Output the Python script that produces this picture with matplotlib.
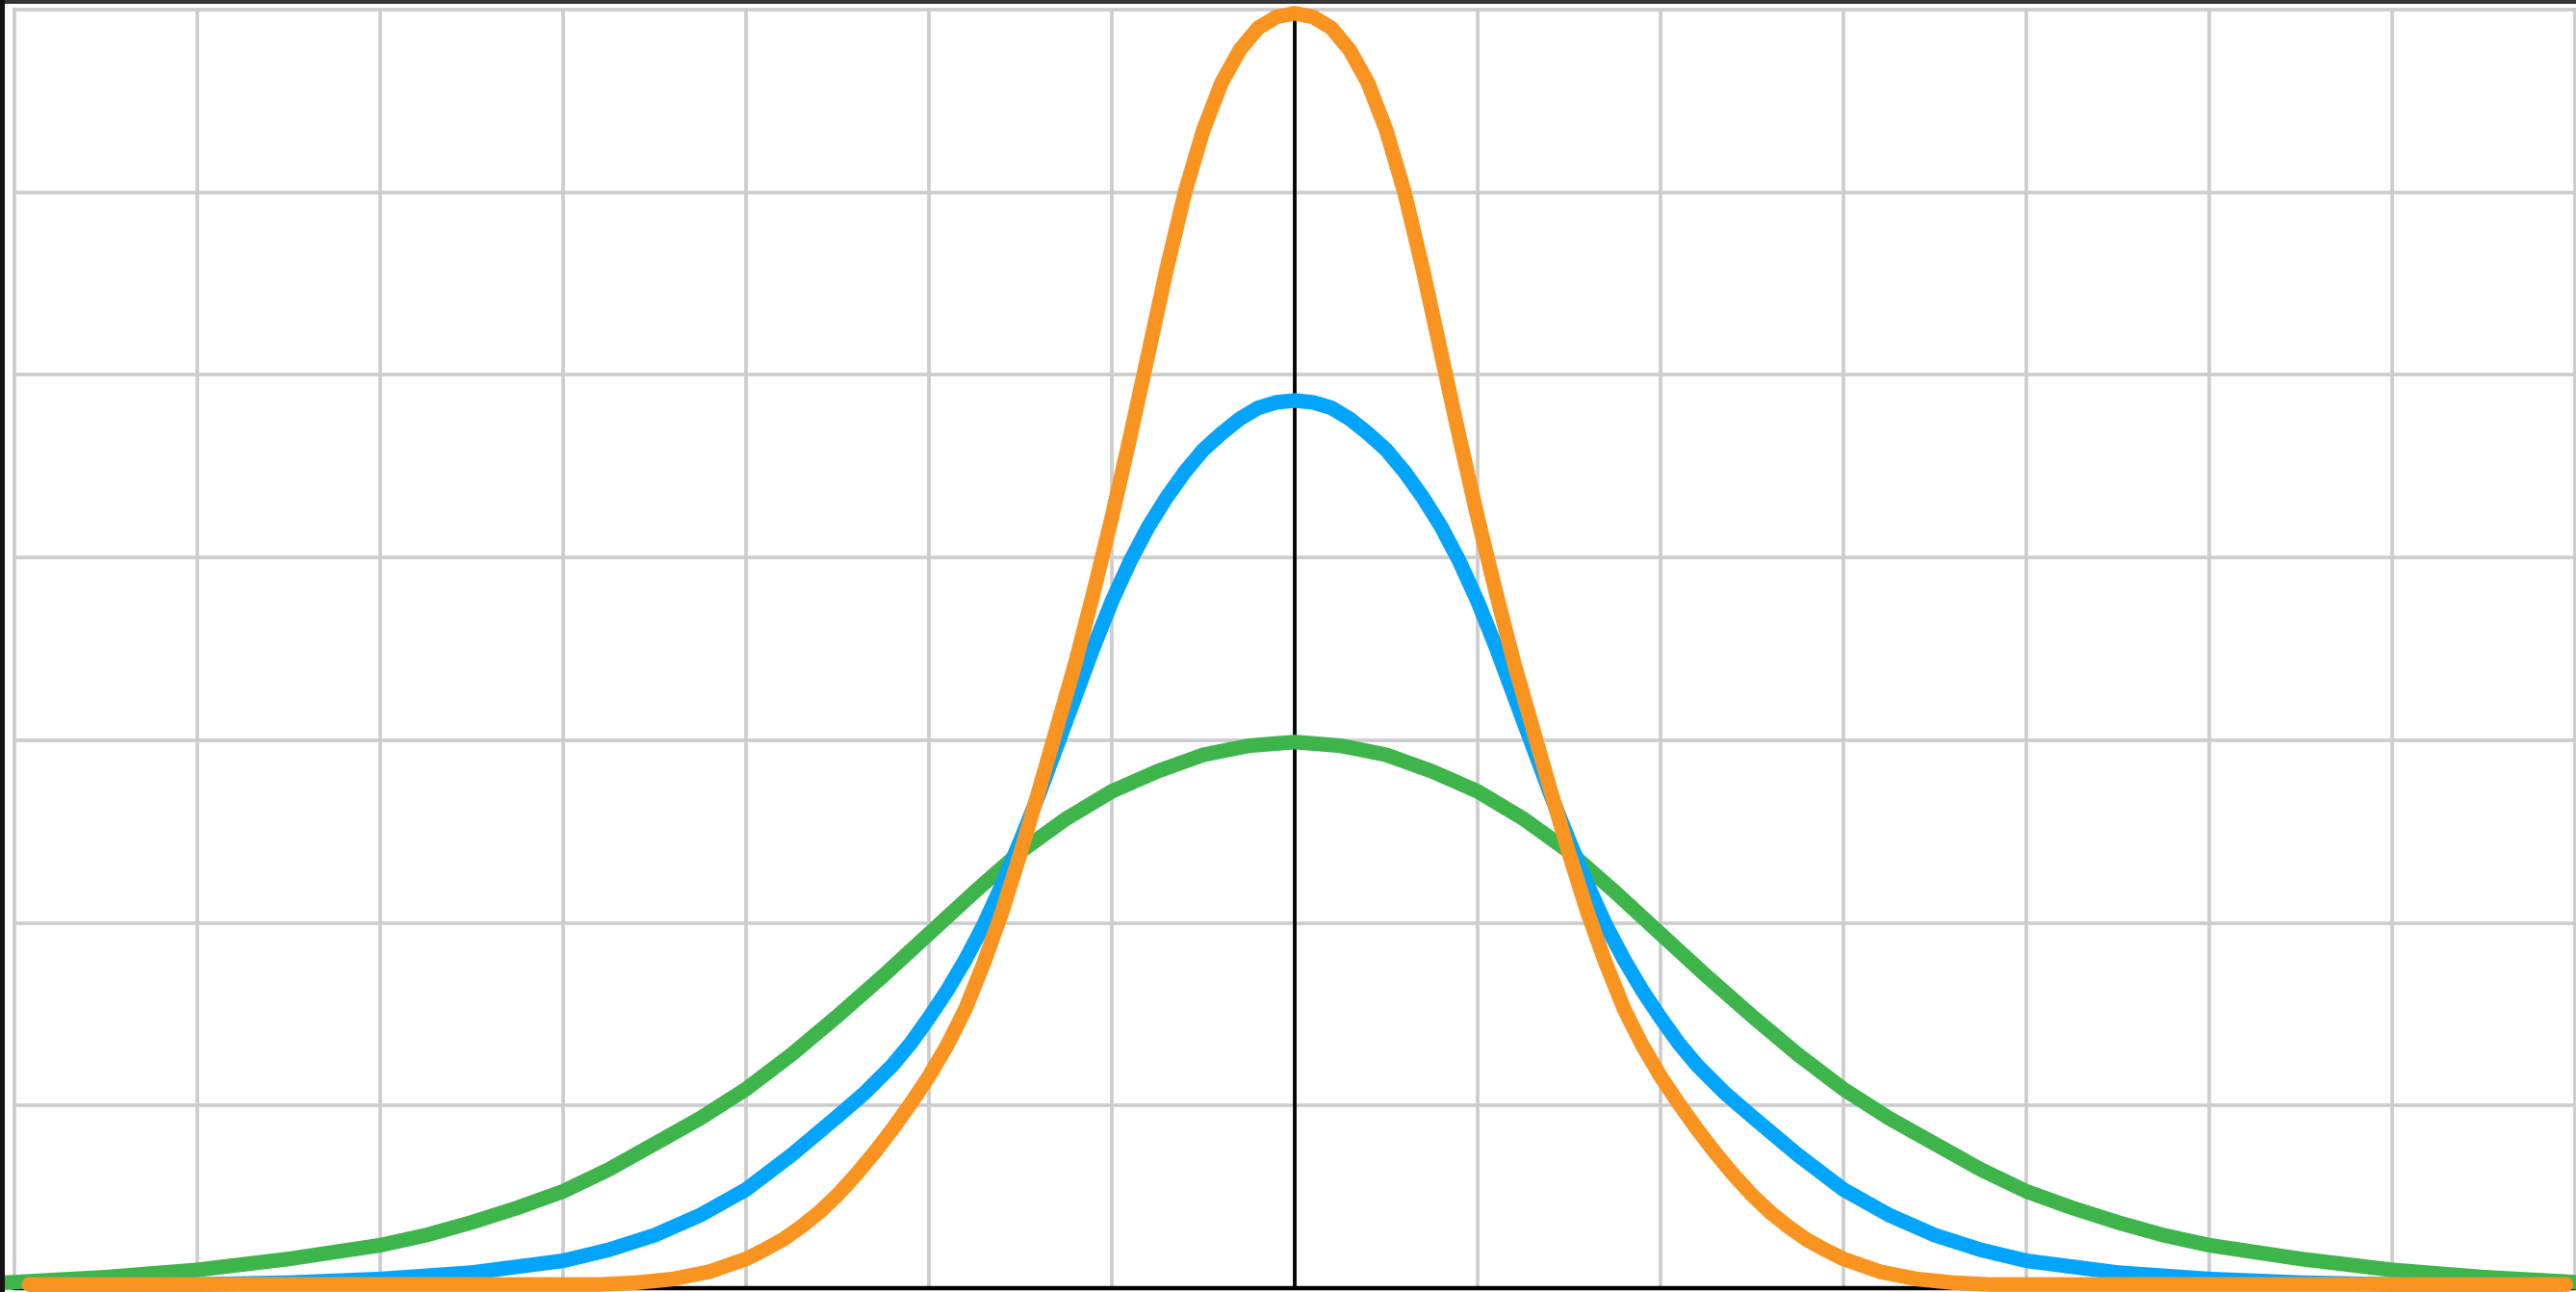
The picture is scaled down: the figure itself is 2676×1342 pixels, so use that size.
import matplotlib
matplotlib.use("Agg")
import matplotlib.pyplot as plt
from matplotlib.patches import Rectangle

# ---------------- data ----------------
green_x = [-7.05, -6.5, -6.0, -5.5, -5.0, -4.75, -4.5, -4.25, -4.0, -3.75, -3.5, -3.25, -3.0, -2.75, -2.5, -2.25,
           -2.0, -1.75, -1.5, -1.25, -1.0, -0.75, -0.5, -0.25, 0.0,
           0.25, 0.5, 0.75, 1.0, 1.25, 1.5, 1.75, 2.0, 2.25, 2.5, 2.75, 3.0, 3.25, 3.5, 3.75, 4.0, 4.25, 4.5, 4.75,
           5.0, 5.5, 6.0, 6.5, 7.05]
green_y = [0.03, 0.06, 0.10, 0.16, 0.235, 0.29, 0.36, 0.44, 0.53, 0.65, 0.79, 0.93, 1.09, 1.28, 1.49, 1.71,
           1.94, 2.17, 2.39, 2.57, 2.72, 2.83, 2.92, 2.97, 2.99,
           2.97, 2.92, 2.83, 2.72, 2.57, 2.39, 2.17, 1.94, 1.71, 1.49, 1.28, 1.09, 0.93, 0.79, 0.65, 0.53, 0.44, 0.36,
           0.29, 0.235, 0.16, 0.10, 0.06, 0.03]

blue_x = [-6.9, -6.0, -5.5, -5.0, -4.5, -4.0, -3.75, -3.5, -3.25, -3.0, -2.75, -2.5, -2.35, -2.2, -2.1, -2.0, -1.9,
          -1.8, -1.7, -1.6, -1.5, -1.4, -1.3, -1.2, -1.1, -1.0, -0.9, -0.8, -0.7, -0.6, -0.5, -0.4, -0.3, -0.2,
          -0.1, 0.0,
          0.1, 0.2, 0.3, 0.4, 0.5, 0.6, 0.7, 0.8, 0.9, 1.0, 1.1, 1.2, 1.3, 1.4, 1.5, 1.6, 1.7, 1.8, 1.9, 2.0, 2.1,
          2.2, 2.35, 2.5, 2.75, 3.0, 3.25, 3.5, 3.75, 4.0, 4.5, 5.0, 5.5, 6.0, 6.9]
blue_y = [0.02, 0.02, 0.03, 0.05, 0.085, 0.15, 0.21, 0.29, 0.40, 0.54, 0.73, 0.94, 1.07, 1.22, 1.34, 1.48, 1.63,
          1.80, 1.99, 2.21, 2.45, 2.70, 2.97, 3.24, 3.51, 3.76, 3.98, 4.17, 4.33, 4.47, 4.59, 4.68, 4.76, 4.82,
          4.85, 4.86,
          4.85, 4.82, 4.76, 4.68, 4.59, 4.47, 4.33, 4.17, 3.98, 3.76, 3.51, 3.24, 2.97, 2.70, 2.45, 2.21, 1.99,
          1.80, 1.63, 1.48, 1.34, 1.22, 1.07, 0.94, 0.73, 0.54, 0.40, 0.29, 0.21, 0.15, 0.085, 0.05, 0.03, 0.02, 0.02]

orange_x = [-6.92, -5.0, -3.8, -3.6, -3.4, -3.2, -3.0, -2.9, -2.8, -2.7, -2.6, -2.5, -2.4, -2.3, -2.2, -2.1, -2.0,
            -1.9, -1.8, -1.7, -1.6, -1.5, -1.4, -1.3, -1.2, -1.1, -1.0, -0.9, -0.8, -0.7, -0.6, -0.5, -0.4, -0.3,
            -0.2, -0.1, 0.0,
            0.1, 0.2, 0.3, 0.4, 0.5, 0.6, 0.7, 0.8, 0.9, 1.0, 1.1, 1.2, 1.3, 1.4, 1.5, 1.6, 1.7, 1.8, 1.9, 2.0,
            2.1, 2.2, 2.3, 2.4, 2.5, 2.6, 2.7, 2.8, 2.9, 3.0, 3.2, 3.4, 3.6, 3.8, 5.0, 6.95]
orange_y = [0.02, 0.02, 0.02, 0.03, 0.05, 0.09, 0.16, 0.21, 0.265, 0.335, 0.415, 0.51, 0.62, 0.74, 0.87, 1.01, 1.16,
            1.33, 1.53, 1.78, 2.06, 2.38, 2.72, 3.07, 3.42, 3.81, 4.22, 4.66, 5.12, 5.58, 6.00, 6.34, 6.60, 6.78,
            6.90, 6.96, 6.98,
            6.96, 6.90, 6.78, 6.60, 6.34, 6.00, 5.58, 5.12, 4.66, 4.22, 3.81, 3.42, 3.07, 2.72, 2.38, 2.06, 1.78,
            1.53, 1.33, 1.16, 1.01, 0.87, 0.74, 0.62, 0.51, 0.415, 0.335, 0.265, 0.21, 0.16, 0.09, 0.05, 0.03,
            0.02, 0.02, 0.02]

grid_x = list(range(-7, 8))
grid_y = list(range(1, 8))

# ---------------- figure ----------------
W, H = 2676, 1342
fig = plt.figure(figsize=(W / 100, H / 100), dpi=100, facecolor="white")
ax = fig.add_axes([15 / W, (H - 1338) / H, 2660 / W, 1328 / H])
ax.set_xlim(-7, 7)
ax.set_ylim(0, 7)
ax.set_axis_off()

grid_col = "#cdcdcd"
for gx in grid_x:
    ax.axvline(gx, color=grid_col, lw=2.7, zorder=1, clip_on=False)
for gy in grid_y:
    ax.axhline(gy, color=grid_col, lw=2.7, zorder=1, clip_on=False)

# axes lines
ax.axvline(0, color="black", lw=2.7, zorder=2)
ax.axhline(0, color="black", lw=3.2, zorder=2, clip_on=False)

lw = 11
style = dict(lw=lw, solid_capstyle="round", solid_joinstyle="round", clip_on=False)
ax.plot(green_x, green_y, color="#3db54b", zorder=3, **style)
ax.plot(blue_x, blue_y, color="#03a5fc", zorder=4, **style)
ax.plot(orange_x, orange_y, color="#fa9421", zorder=5, **style)

# dark frame edges (top and left) as in the screenshot
fig.add_artist(Rectangle((0, 1 - 4 / H), 1, 4 / H, transform=fig.transFigure,
                         facecolor="#363636", edgecolor="none", zorder=10))
fig.add_artist(Rectangle((0, 0), 5 / W, 1, transform=fig.transFigure,
                         facecolor="#141414", edgecolor="none", zorder=10))

fig.savefig("out.png", dpi=100, facecolor="white")
